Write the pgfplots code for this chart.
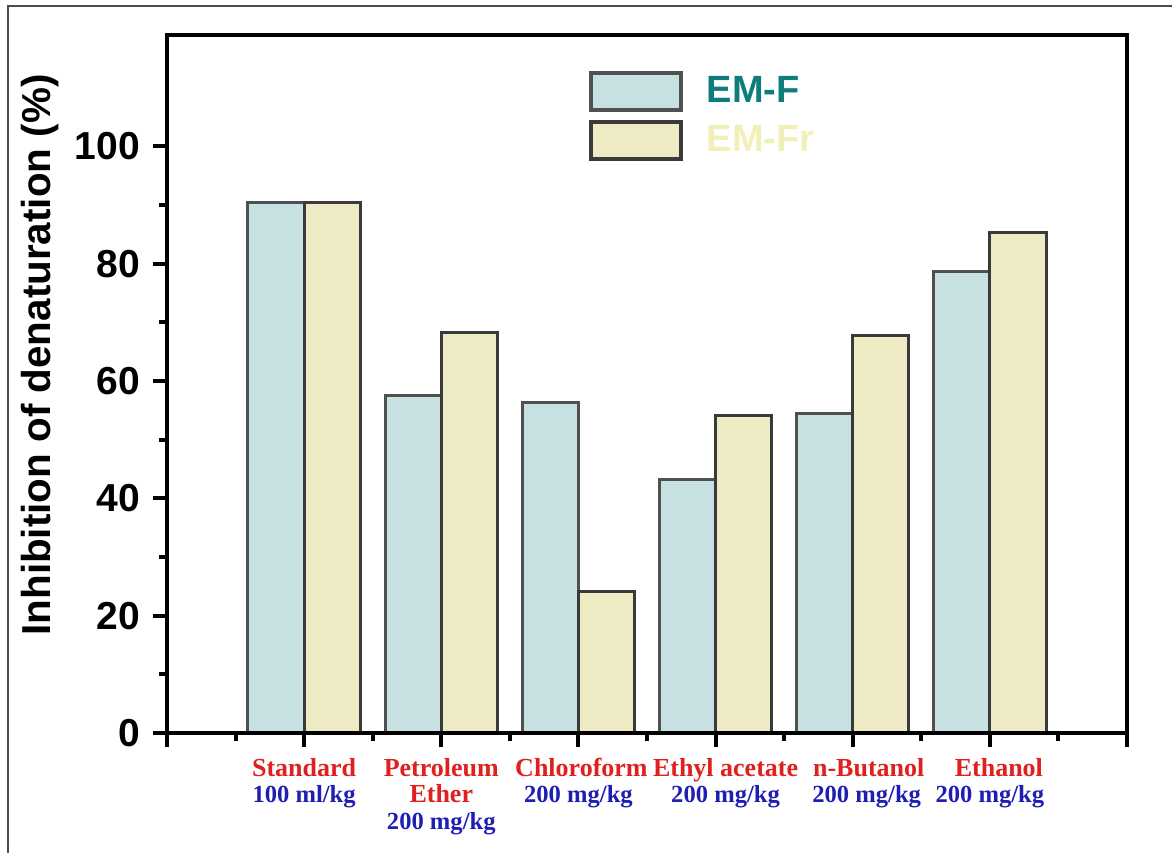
\documentclass[border=0pt]{standalone}
\usepackage{pgfplots}
\pgfplotsset{compat=1.18}
\usepackage{fontspec}
\setmainfont{Liberation Sans}
\newfontfamily\tnr{Liberation Serif}
\definecolor{barF}{HTML}{C7E1E3}
\definecolor{barFr}{HTML}{EEEBC4}
\definecolor{edgeF}{HTML}{505050}
\definecolor{edgeFr}{HTML}{3A3A3A}
\definecolor{labred}{HTML}{E0201F}
\definecolor{labblue}{HTML}{1E1EB4}
\definecolor{legF}{HTML}{0E7D7B}
\definecolor{legFr}{HTML}{F2F0B8}
\newcommand{\rl}[1]{\textcolor{labred}{#1}}
\newcommand{\bl}[1]{{\fontsize{12.3}{13}\selectfont\textcolor{labblue}{#1}}}
\begin{document}
\begin{tikzpicture}
\begin{axis}[name=ax, scale only axis, width=480pt, height=349pt,
  xmin=0, xmax=7, ymin=0, ymax=119,
  ybar=0pt, bar width=0.41,
  axis on top,
  axis line style={line width=2pt},
  xtick={0,...,7},
  xticklabels={,{\rl{Standard}\\\bl{100 ml/kg}},{\rl{Petroleum}\\\rl{Ether}\\\bl{200 mg/kg}},{\rl{Chloroform}\hspace*{-3pt}\\\bl{200 mg/kg}},{\hspace*{10pt}\rl{Ethyl acetate}\\\hspace*{10pt}\bl{200 mg/kg}},{\hspace*{16pt}\rl{n-Butanol}\\\hspace*{14pt}\bl{200 mg/kg}},{\hspace*{9pt}\rl{Ethanol}\\\bl{200 mg/kg}},},
  minor x tick num=1,
  ytick={0,20,...,100}, minor y tick num=1,
  tick align=outside, tick pos=left,
  major tick length=7pt, minor tick length=4pt,
  every major tick/.style={black, line width=2pt},
  every minor tick/.style={black, line width=2pt},
  /pgf/number format/assume math mode=true,
  yticklabel style={font=\bfseries\fontsize{19.5}{22}\selectfont, xshift=-3pt},
  xticklabel style={align=center, font=\tnr\bfseries\fontsize{13}{13.3}\selectfont, yshift=-2pt},
  ylabel={Inhibition of denaturation (\%)},
  ylabel style={font=\bfseries\fontsize{20.2}{24}\selectfont, at={(rel axis cs:-0.1323,0.5415)}, anchor=center},
  legend style={at={(rel axis cs:0.4327,0.955)}, anchor=north west, draw=none, fill=none,
    font=\bfseries\fontsize{19}{22}\selectfont, row sep=4pt, cells={anchor=west},
    /tikz/every odd column/.append style={column sep=10pt}},
]
\addplot[fill=barF, draw=edgeF, line width=1.5pt,
  legend image code/.code={\draw[fill=barF, draw=edgeF, line width=2pt] (0pt,-9.25pt) rectangle (45pt,9.25pt);}]
  coordinates {(1,90.4) (2,57.5) (3,56.3) (4,43.2) (5,54.4) (6,78.7)};
\addplot[fill=barFr, draw=edgeFr, line width=1.5pt,
  legend image code/.code={\draw[fill=barFr, draw=edgeFr, line width=2pt] (0pt,-9.25pt) rectangle (45pt,9.25pt);}]
  coordinates {(1,90.4) (2,68.3) (3,24.1) (4,54.1) (5,67.7) (6,85.3)};
\legend{\textcolor{legF}{EM-F},\textcolor{legFr}{EM-Fr}}
\end{axis}
\pgfresetboundingbox
\path[use as bounding box] ([xshift=-83.5pt,yshift=-59.5pt]ax.south west) rectangle ([xshift=22.5pt,yshift=17.5pt]ax.north east);
\draw[black!70, line width=0.6pt] ([xshift=-79.5pt,yshift=-60pt]ax.south west) -- ([xshift=-79.5pt,yshift=14.5pt]ax.south west |- ax.north east) -- ([xshift=22.5pt,yshift=14.5pt]ax.north east);
\end{tikzpicture}
\end{document}
